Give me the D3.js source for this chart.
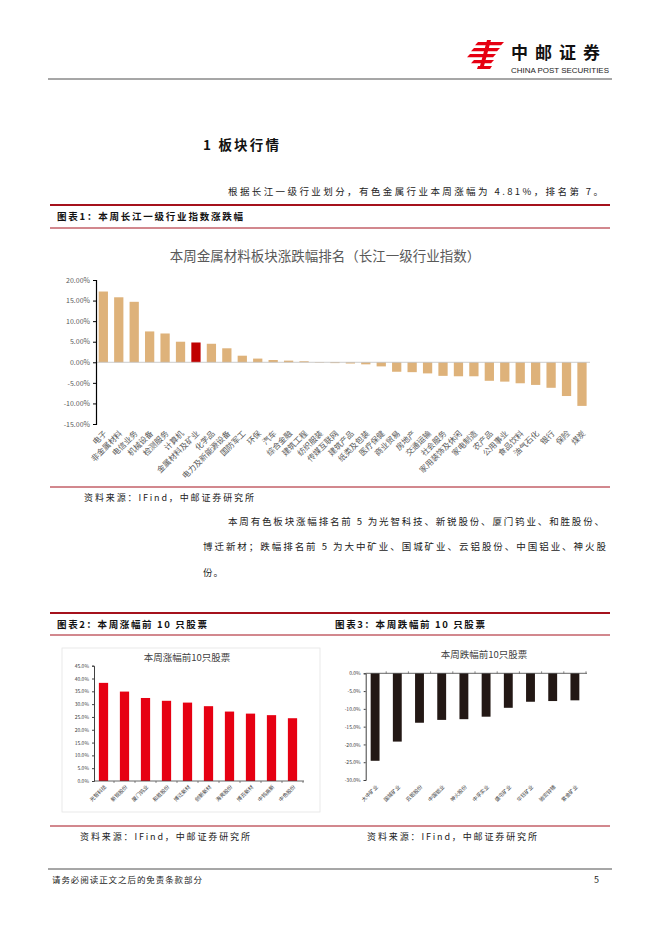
<!DOCTYPE html>
<html>
<head>
<meta charset="utf-8">
<script src="https://cdn.jsdelivr.net/npm/d3@7"></script>
<style>
  html, body { margin: 0; padding: 0; background: #fff; }
  svg text { font-family: "Noto Sans CJK SC", "DejaVu Sans", sans-serif; }
</style>
</head>
<body>
<div id="page"></div>
<script>
// chart 1 : weekly change of Changjiang level-1 industry indices (%)
var industries = ["电子","非金属材料","电信业务","机械设备","检测服务","计算机","金属材料及矿业","化学品",
  "电力及新能源设备","国防军工","环保","汽车","综合金融","建筑工程","纺织服装","传媒互联网",
  "建筑产品","纸类及包装","医疗保健","商业贸易","房地产","交通运输","社会服务","家用装饰及休闲",
  "家电制造","农产品","公用事业","食品饮料","油气石化","银行","保险","煤炭"];
var industryChange = [17.2, 15.8, 14.7, 7.5, 7.0, 5.0, 4.81, 4.5, 3.4, 1.6, 0.9, 0.55, 0.4, 0.25, -0.1, -0.2,
  -0.3, -0.5, -1.0, -2.3, -2.4, -2.7, -3.3, -3.4, -3.4, -4.5, -4.7, -5.1, -5.5, -6.2, -8.2, -10.6];
var highlightIndustry = "金属材料及矿业";
var industryTicks = [20, 15, 10, 5, 0, -5, -10, -15];

// chart 2 : top 10 gainers (%)
var gainers = ["光智科技","新锐股份","厦门钨业","和胜股份","博迁新材","创新新材","海亮股份","博云新材","中钨高新","中色股份"];
var gainValues = [38.3, 34.9, 32.4, 31.3, 30.6, 29.2, 27.1, 26.3, 25.7, 24.5];
var gainTicks = [0, 5, 10, 15, 20, 25, 30, 35, 40, 45];

// chart 3 : top 10 losers (%)
var losers = ["大中矿业","国城矿业","云铝股份","中国铝业","神火股份","中孚实业","盛屯矿业","华钰矿业","驰宏锌锗","紫金矿业"];
var lossValues = [-24.6, -19.2, -13.9, -13.1, -12.9, -12.2, -9.7, -8.0, -7.8, -7.6];
var lossTicks = [0, -5, -10, -15, -20, -25, -30];

var W = 662, H = 936;
var red = "#a5111c";
var svg = d3.select("#page").append("svg").attr("width", W).attr("height", H);

// ---------- header ----------
var logo = svg.append("g").attr("fill", "#e60012");
// rough China Post mark
[[478,42,26],[474,48,26],[470,54,26],[474,60,20]].forEach(function(r){
  logo.append("path").attr("d", "M"+r[0]+","+r[1]+" l"+r[2]+",0 l-3,3.2 l-"+r[2]+",0 z");
});
logo.append("path").attr("d", "M487,40 l4,0 l-7,26 l-4,0 z");
logo.append("path").attr("d", "M478,66 l14,0 l-2,3 l-13,0 z");
svg.append("text").text("中邮证券").attr("x", 511).attr("y", 59)
  .attr("font-size", 17).attr("font-weight", "bold").attr("letter-spacing", 7).attr("fill", "#111");
svg.append("text").text("CHINA POST SECURITIES").attr("x", 511).attr("y", 73)
  .attr("font-size", 7).attr("fill", "#222").attr("textLength", 98).attr("lengthAdjust", "spacingAndGlyphs")
  .style("font-family", "Liberation Sans, Arial, sans-serif");
svg.append("line").attr("x1", 48).attr("x2", 612).attr("y1", 79).attr("y2", 79).attr("stroke", "#222").attr("stroke-width", 0.8);

// ---------- body text ----------
function para(txt, x, y, len, opts)
{
  opts = opts || {};
  var t = svg.append("text").text(txt).attr("x", x).attr("y", y)
    .attr("font-size", opts.size || 9.5).attr("fill", opts.fill || "#222");
  if(len) t.attr("textLength", len).attr("lengthAdjust", "spacing");
  if(opts.bold) t.attr("font-weight", "bold");
  return t;
}
para("1  板块行情", 203, 150, 76, {size: 13.5, bold: true, fill: "#111"});
para("根据长江一级行业划分，有色金属行业本周涨幅为 4.81%，排名第 7。", 228, 195, 375);

function hline(y, w)
{
  svg.append("line").attr("x1", 50).attr("x2", 610).attr("y1", y).attr("y2", y)
    .attr("stroke", red).attr("stroke-width", w);
}
hline(205, 1.8);
para("图表1：本周长江一级行业指数涨跌幅", 57, 220, 186, {size: 9.5, bold: true, fill: "#111"});
hline(228, 1);

hline(487, 1);
para("资料来源：IFind，中邮证券研究所", 84, 501, 170, {size: 9});
para("本周有色板块涨幅排名前 5 为光智科技、新锐股份、厦门钨业、和胜股份、", 228, 525, 376);
para("博迁新材；跌幅排名前 5 为大中矿业、国城矿业、云铝股份、中国铝业、神火股", 203, 550, 403);
para("份。", 203, 576, 20);

hline(613, 1.8);
para("图表2：本周涨幅前 10 只股票", 57, 628, 150, {size: 9.5, bold: true, fill: "#111"});
para("图表3：本周跌幅前 10 只股票", 335, 628, 150, {size: 9.5, bold: true, fill: "#111"});
hline(635, 1);

hline(826, 1);
para("资料来源：IFind，中邮证券研究所", 80, 840, 170, {size: 9});
para("资料来源：IFind，中邮证券研究所", 367, 840, 170, {size: 9});

svg.append("line").attr("x1", 48).attr("x2", 612).attr("y1", 869).attr("y2", 869).attr("stroke", "#222").attr("stroke-width", 0.8);
para("请务必阅读正文之后的免责条款部分", 52, 883, 150, {size: 8.5});
para("5", 594, 883, null, {size: 9});

// ---------- chart 1 ----------
var g1 = svg.append("g");
g1.append("text").text("本周金属材料板块涨跌幅排名（长江一级行业指数）")
  .attr("x", 325).attr("y", 261).attr("text-anchor", "middle")
  .attr("font-size", 13.5).attr("fill", "#595959");

var x1 = d3.scaleBand().domain(industries).range([95.6, 589.7]).paddingInner(0.4).paddingOuter(0.2);
var y1 = d3.scaleLinear().domain([-15, 20]).range([424, 280]);

g1.selectAll("rect.bar").data(industries).enter().append("rect")
  .attr("x", function(d){ return x1(d); })
  .attr("width", x1.bandwidth())
  .attr("y", function(d, i){ return y1(Math.max(0, industryChange[i])); })
  .attr("height", function(d, i){ return Math.abs(y1(industryChange[i]) - y1(0)); })
  .attr("fill", function(d){ return d == highlightIndustry ? "#c00000" : "#deb27a"; });

g1.append("line").attr("x1", 96).attr("x2", 590).attr("y1", y1(0)).attr("y2", y1(0))
  .attr("stroke", "#bfbfbf").attr("stroke-width", 0.8);

var ax1 = g1.append("g").attr("transform", "translate(96,0)")
  .call(d3.axisLeft(y1).tickValues(industryTicks).tickSize(3)
    .tickFormat(function(d){ return d.toFixed(2) + "%"; }));
ax1.select(".domain").attr("stroke", "#000").attr("stroke-width", 1.2);
ax1.selectAll(".tick line").attr("stroke", "#000");
ax1.selectAll(".tick text").attr("font-size", 7).attr("fill", "#595959");

g1.selectAll("text.cat").data(industries).enter().append("text")
  .attr("class", "cat").text(function(d){ return d; })
  .attr("transform", function(d){ return "translate(" + (x1(d) + x1.bandwidth()/2 + 2) + ",432) rotate(-45)"; })
  .attr("text-anchor", "end").attr("dy", "0.35em")
  .attr("font-size", 8).attr("fill", "#595959");

// ---------- chart 2 ----------
var g2 = svg.append("g");
g2.append("rect").attr("x", 62).attr("y", 648).attr("width", 258).attr("height", 164)
  .attr("fill", "none").attr("stroke", "#e4e4e4").attr("stroke-width", 0.8);
g2.append("text").text("本周涨幅前10只股票").attr("x", 187).attr("y", 661)
  .attr("text-anchor", "middle").attr("font-size", 9.5).attr("fill", "#404040");

var x2 = d3.scaleBand().domain(gainers).range([93, 303]).paddingInner(0.56).paddingOuter(0.28);
var y2 = d3.scaleLinear().domain([0, 45]).range([781, 665.7]);

g2.selectAll("rect.bar").data(gainers).enter().append("rect")
  .attr("x", function(d){ return x2(d); })
  .attr("width", x2.bandwidth())
  .attr("y", function(d, i){ return y2(gainValues[i]); })
  .attr("height", function(d, i){ return y2(0) - y2(gainValues[i]); })
  .attr("fill", "#e60012");

var ay2 = g2.append("g").attr("transform", "translate(94,0)")
  .call(d3.axisLeft(y2).tickValues(gainTicks).tickSize(2)
    .tickFormat(function(d){ return d.toFixed(1) + "%"; }));
ay2.select(".domain").attr("stroke", "#404040");
ay2.selectAll(".tick line").attr("stroke", "#404040");
ay2.selectAll(".tick text").attr("font-size", 5).attr("fill", "#404040");

g2.append("line").attr("x1", 94).attr("x2", 304).attr("y1", y2(0)).attr("y2", y2(0)).attr("stroke", "#404040").attr("stroke-width", 0.8);
g2.selectAll("line.sep").data(gainers).enter().append("line")
  .attr("x1", function(d){ return x2(d) + x2.bandwidth()/2 + x2.step()/2; })
  .attr("x2", function(d){ return x2(d) + x2.bandwidth()/2 + x2.step()/2; })
  .attr("y1", y2(0)).attr("y2", y2(0) + 2).attr("stroke", "#404040").attr("stroke-width", 0.6);

g2.selectAll("text.cat").data(gainers).enter().append("text")
  .text(function(d){ return d; })
  .attr("transform", function(d){ return "translate(" + (x2(d) + x2.bandwidth()/2 + 2) + ",786) rotate(-45)"; })
  .attr("text-anchor", "end").attr("dy", "0.35em")
  .attr("font-size", 5.2).attr("fill", "#404040");

// ---------- chart 3 ----------
var g3 = svg.append("g");
g3.append("text").text("本周跌幅前10只股票").attr("x", 484).attr("y", 658)
  .attr("text-anchor", "middle").attr("font-size", 9.5).attr("fill", "#404040");

var x3 = d3.scaleBand().domain(losers).range([364, 586]).paddingInner(0.6).paddingOuter(0.3);
var y3 = d3.scaleLinear().domain([-30, 0]).range([780, 673.3]);

g3.selectAll("rect.bar").data(losers).enter().append("rect")
  .attr("x", function(d){ return x3(d); })
  .attr("width", x3.bandwidth())
  .attr("y", y3(0))
  .attr("height", function(d, i){ return y3(lossValues[i]) - y3(0); })
  .attr("fill", "#231815");

var ay3 = g3.append("g").attr("transform", "translate(365.7,0)")
  .call(d3.axisLeft(y3).tickValues(lossTicks).tickSize(2)
    .tickFormat(function(d){ return d.toFixed(1) + "%"; }));
ay3.select(".domain").attr("stroke", "#404040");
ay3.selectAll(".tick line").attr("stroke", "#404040");
ay3.selectAll(".tick text").attr("font-size", 5).attr("fill", "#404040");

g3.append("line").attr("x1", 365.7).attr("x2", 587).attr("y1", y3(0)).attr("y2", y3(0)).attr("stroke", "#404040").attr("stroke-width", 0.8);
g3.selectAll("line.sep").data(losers).enter().append("line")
  .attr("x1", function(d){ return x3(d) + x3.bandwidth()/2 + x3.step()/2; })
  .attr("x2", function(d){ return x3(d) + x3.bandwidth()/2 + x3.step()/2; })
  .attr("y1", y3(0)).attr("y2", y3(0) - 2).attr("stroke", "#404040").attr("stroke-width", 0.6);

g3.selectAll("text.cat").data(losers).enter().append("text")
  .text(function(d){ return d; })
  .attr("transform", function(d){ return "translate(" + (x3(d) + x3.bandwidth()/2 + 2) + ",786) rotate(-45)"; })
  .attr("text-anchor", "end").attr("dy", "0.35em")
  .attr("font-size", 5.2).attr("fill", "#404040");
</script>
</body>
</html>
